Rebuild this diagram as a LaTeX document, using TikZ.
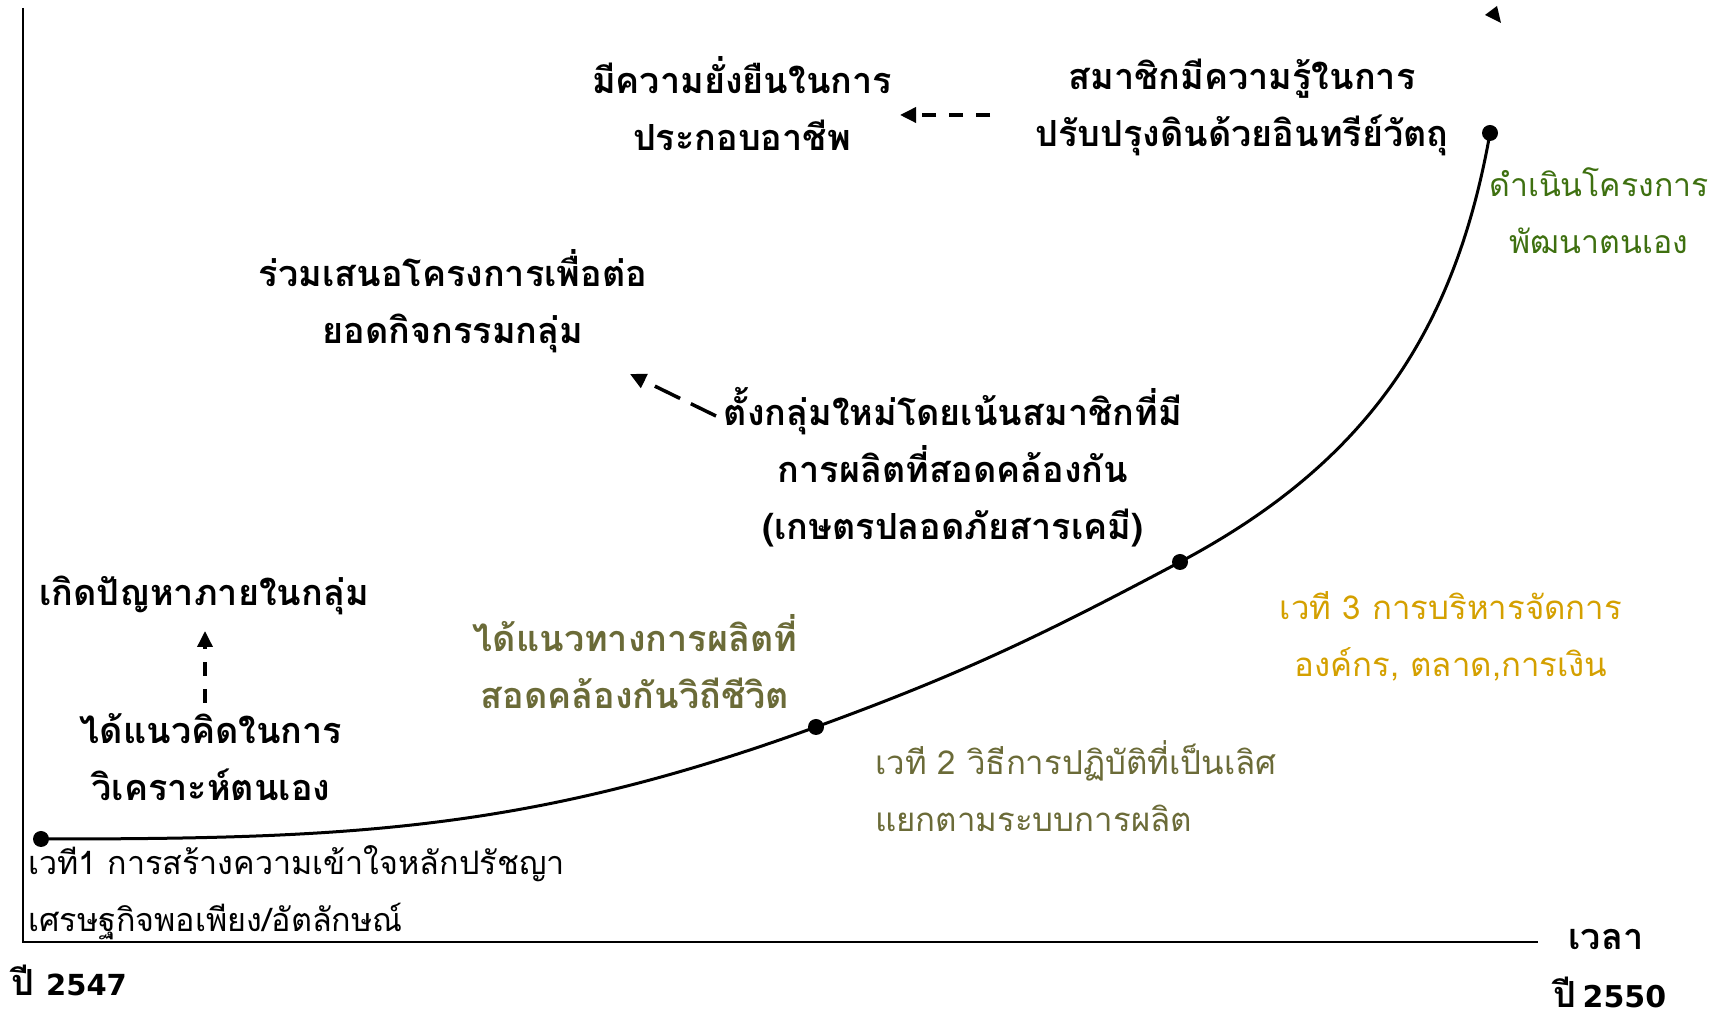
\documentclass[tikz,border=0pt]{standalone}
\usepackage{fontspec}
\setmainfont[Script=Thai]{Loma}
\newfontfamily\digitfont{DejaVu Sans}
\usetikzlibrary{arrows.meta}
\definecolor{mygreen}{RGB}{62,112,16}
\definecolor{myolive}{RGB}{107,107,56}
\definecolor{mygold}{RGB}{212,160,0}
\begin{document}
\begin{tikzpicture}[x=1pt,y=1pt,
  boldlbl/.style={font=\bfseries\fontsize{36}{57}\selectfont, align=center, inner sep=0pt},
  plainlbl/.style={font=\fontsize{33}{57}\selectfont, align=left, inner sep=0pt},
  dasharrow/.style={-{Triangle[length=16pt,width=15pt]}, dash pattern=on 14pt off 13pt, line width=3.5pt},
  longdash/.style={dash pattern=on 28pt off 12pt},
  dotnode/.style={circle, fill=black, inner sep=0pt, minimum size=16pt},
  axisline/.style={line width=2.5pt},
  growth/.style={line width=3pt}]
\useasboundingbox (0,0) rectangle (1711,1017);
% axes
\coordinate (ytop) at (23,1009);
\coordinate (orig) at (23,75);
\coordinate (xend) at (1538,75);
\draw[axisline] (ytop) -- (orig) -- (xend);
% dots
\node[dotnode] (d0) at (41,178) {};
\node[dotnode] (d1) at (816,290) {};
\node[dotnode] (d2) at (1180,455) {};
\node[dotnode] (d3) at (1490,884) {};
\draw[growth] (d0.center) to[out=0,in=200] (d1.center) to[out=20,in=208] (d2.center) to[out=28,in=260] (d3.center);
% lone arrow head at top
\fill (1485,1002) -- (1497,1011) -- (1501,994) -- cycle;
% labels
\node[boldlbl] (n1) at (742,913) {มีความยั่งยืนในการ\\ประกอบอาชีพ};
\node[boldlbl] (n2) at (1242,910) {สมาชิกมีความรู้ในการ\\ปรับปรุงดินด้วยอินทรีย์วัตถุ};
\node[plainlbl, align=center, text=mygreen, font=\fontsize{32}{57}\selectfont] (n3) at (1599,806) {ดำเนินโครงการ\\พัฒนาตนเอง};
\node[boldlbl] (n4) at (453,716) {ร่วมเสนอโครงการเพื่อต่อ\\ยอดกิจกรรมกลุ่ม};
\node[boldlbl] (n5) at (953,550) {ตั้งกลุ่มใหม่โดยเน้นสมาชิกที่มี\\การผลิตที่สอดคล้องกัน\\(เกษตรปลอดภัยสารเคมี)};
\node[boldlbl] (n6) at (204,422) {เกิดปัญหาภายในกลุ่ม};
\node[boldlbl] (n7) at (211,260) {ได้แนวคิดในการ\\วิเคราะห์ตนเอง};
\node[boldlbl, text=myolive] (n8) at (635,355) {ได้แนวทางการผลิตที่\\สอดคล้องกันวิถีชีวิต};
\node[plainlbl, text=myolive, anchor=west] (n9) at (875,231) {เวที 2 วิธีการปฏิบัติที่เป็นเลิศ\\แยกตามระบบการผลิต};
\node[plainlbl, align=center, text=mygold] (n10) at (1451,381) {เวที 3 การบริหารจัดการ\\องค์กร, ตลาด,การเงิน};
\node[plainlbl, anchor=west, font=\fontsize{32.3}{57}\selectfont] (n11) at (28,124) {เวที1 การสร้างความเข้าใจหลักปรัชญา\\เศรษฐกิจพอเพียง/อัตลักษณ์};
\node[boldlbl, anchor=west] (n12) at (11,37) {ปี {\digitfont\fontsize{29}{30}\selectfont 2547}};
\node[boldlbl] (n13) at (1606,77) {เวลา};
\node[boldlbl] (n14) at (1610,25) {ปี\hspace{6pt}{\digitfont\fontsize{30}{30}\selectfont 2550}};
% dashed arrows
\coordinate (a1s) at (990,902);
\coordinate (a1e) at (900,902);
\draw[dasharrow] (a1s) -- (a1e);
\coordinate (a2s) at (716,601);
\coordinate (a2e) at (630,643);
\draw[dasharrow, longdash] (a2s) -- (a2e);
\coordinate (a3s) at (205,314);
\coordinate (a3e) at (205,386);
\draw[dasharrow] (a3s) -- (a3e);
\end{tikzpicture}
\end{document}
